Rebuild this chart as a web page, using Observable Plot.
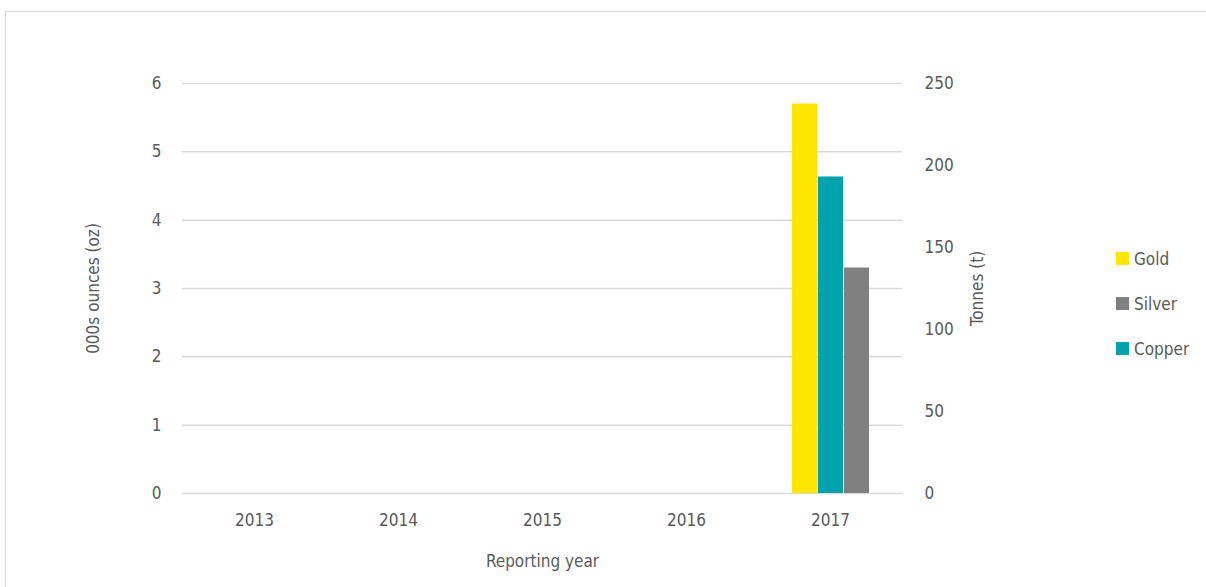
<!DOCTYPE html>
<html>
<head>
<meta charset="utf-8">
<script src="https://cdn.jsdelivr.net/npm/d3@7"></script>
<script src="https://cdn.jsdelivr.net/npm/@observablehq/plot@0.6"></script>
<style>
  html, body { margin: 0; padding: 0; background: #fff; overflow: hidden; }
  body { width: 1206px; height: 587px; position: relative;
         font-family: "DejaVu Sans Condensed", "DejaVu Sans", sans-serif; font-stretch: condensed; }
  #frame { position: absolute; left: 5px; top: 11px; width: 1220px; height: 620px; border: 1px solid #d9d9d9; box-sizing: border-box; }
  #chart { position: absolute; left: 0; top: 0; }
  #legend { position: absolute; left: 1116px; top: 236px; color: #595959; font-size: 17px; }
  #legend .item { display: flex; align-items: center; height: 45px; }
  #legend .sw { width: 13px; height: 13px; margin-right: 5px; }
</style>
</head>
<body>
<div id="frame"></div>
<div id="chart"></div>
<div id="legend"></div>
<script>
// Categories
const years = ["2013", "2014", "2015", "2016", "2017"];
// Series (drawing order within a year)
const seriesOrder = ["Gold", "Copper", "Silver"];
const legendOrder = ["Gold", "Silver", "Copper"];
const colors = {Gold: "#FFE500", Silver: "#808080", Copper: "#00A3AD"};
// Values: gold & silver in 000s ounces (left axis), copper in tonnes (right axis)
const goldOz = {"2017": 5.70};
const silverOz = {"2017": 3.30};
const copperT = {"2017": 193};
// Axis ticks
const ozTicks = [0, 1, 2, 3, 4, 5, 6];
const tonneTicks = [0, 50, 100, 150, 200, 250];
const ozMax = 6, tonneMax = 250;
const t2oz = t => t * ozMax / tonneMax;

const data = [];
for (const y of years) {
  if (goldOz[y] != null) data.push({year: y, series: "Gold", value: goldOz[y]});
  if (copperT[y] != null) data.push({year: y, series: "Copper", value: t2oz(copperT[y])});
  if (silverOz[y] != null) data.push({year: y, series: "Silver", value: silverOz[y]});
}
// gridlines in every year panel
const grid = years.flatMap(yr => ozTicks.map(t => ({year: yr, t})));

const font = '"DejaVu Sans Condensed", "DejaVu Sans", sans-serif';
const chart = Plot.plot({
  width: 1206,
  height: 587,
  marginLeft: 180,
  marginRight: 303,
  marginTop: 83,
  marginBottom: 94,
  style: {fontFamily: font, fontSize: "17px", color: "#595959", background: "transparent", fontStretch: "condensed"},
  fx: {domain: years, padding: 0, label: "Reporting year"},
  x: {domain: seriesOrder, paddingInner: 0.04, paddingOuter: 1.2, axis: null},
  y: {domain: [0, ozMax]},
  color: {domain: Object.keys(colors), range: Object.values(colors)},
  marks: [
    Plot.ruleY(grid, {fx: "year", y: "t", stroke: "#d9d9d9", strokeWidth: 1.5}),
    Plot.barY(data, {fx: "year", x: "series", y: "value", fill: "series"}),
    Plot.axisFx({anchor: "bottom", tickSize: 0, tickPadding: 20, label: "Reporting year",
      labelAnchor: "center", labelArrow: "none", labelOffset: 73, fill: "#595959"}),
    Plot.axisY(ozTicks, {anchor: "left", tickSize: 0, tickPadding: 21, tickFormat: d => String(d),
      label: "000s ounces (oz)", labelAnchor: "center", labelArrow: "none", labelOffset: 96, fill: "#595959"}),
    Plot.axisY(tonneTicks.map(t2oz), {anchor: "right", tickSize: 0, tickPadding: 22,
      tickFormat: d => String(Math.round(d * tonneMax / ozMax)),
      label: "Tonnes (t)", labelAnchor: "center", labelArrow: "none", labelOffset: 80, fill: "#595959"})
  ]
});
document.getElementById("chart").appendChild(chart);

const leg = document.getElementById("legend");
for (const s of legendOrder) {
  const it = document.createElement("div");
  it.className = "item";
  it.innerHTML = `<span class="sw" style="background:${colors[s]}"></span><span>${s}</span>`;
  leg.appendChild(it);
}
</script>
</body>
</html>
